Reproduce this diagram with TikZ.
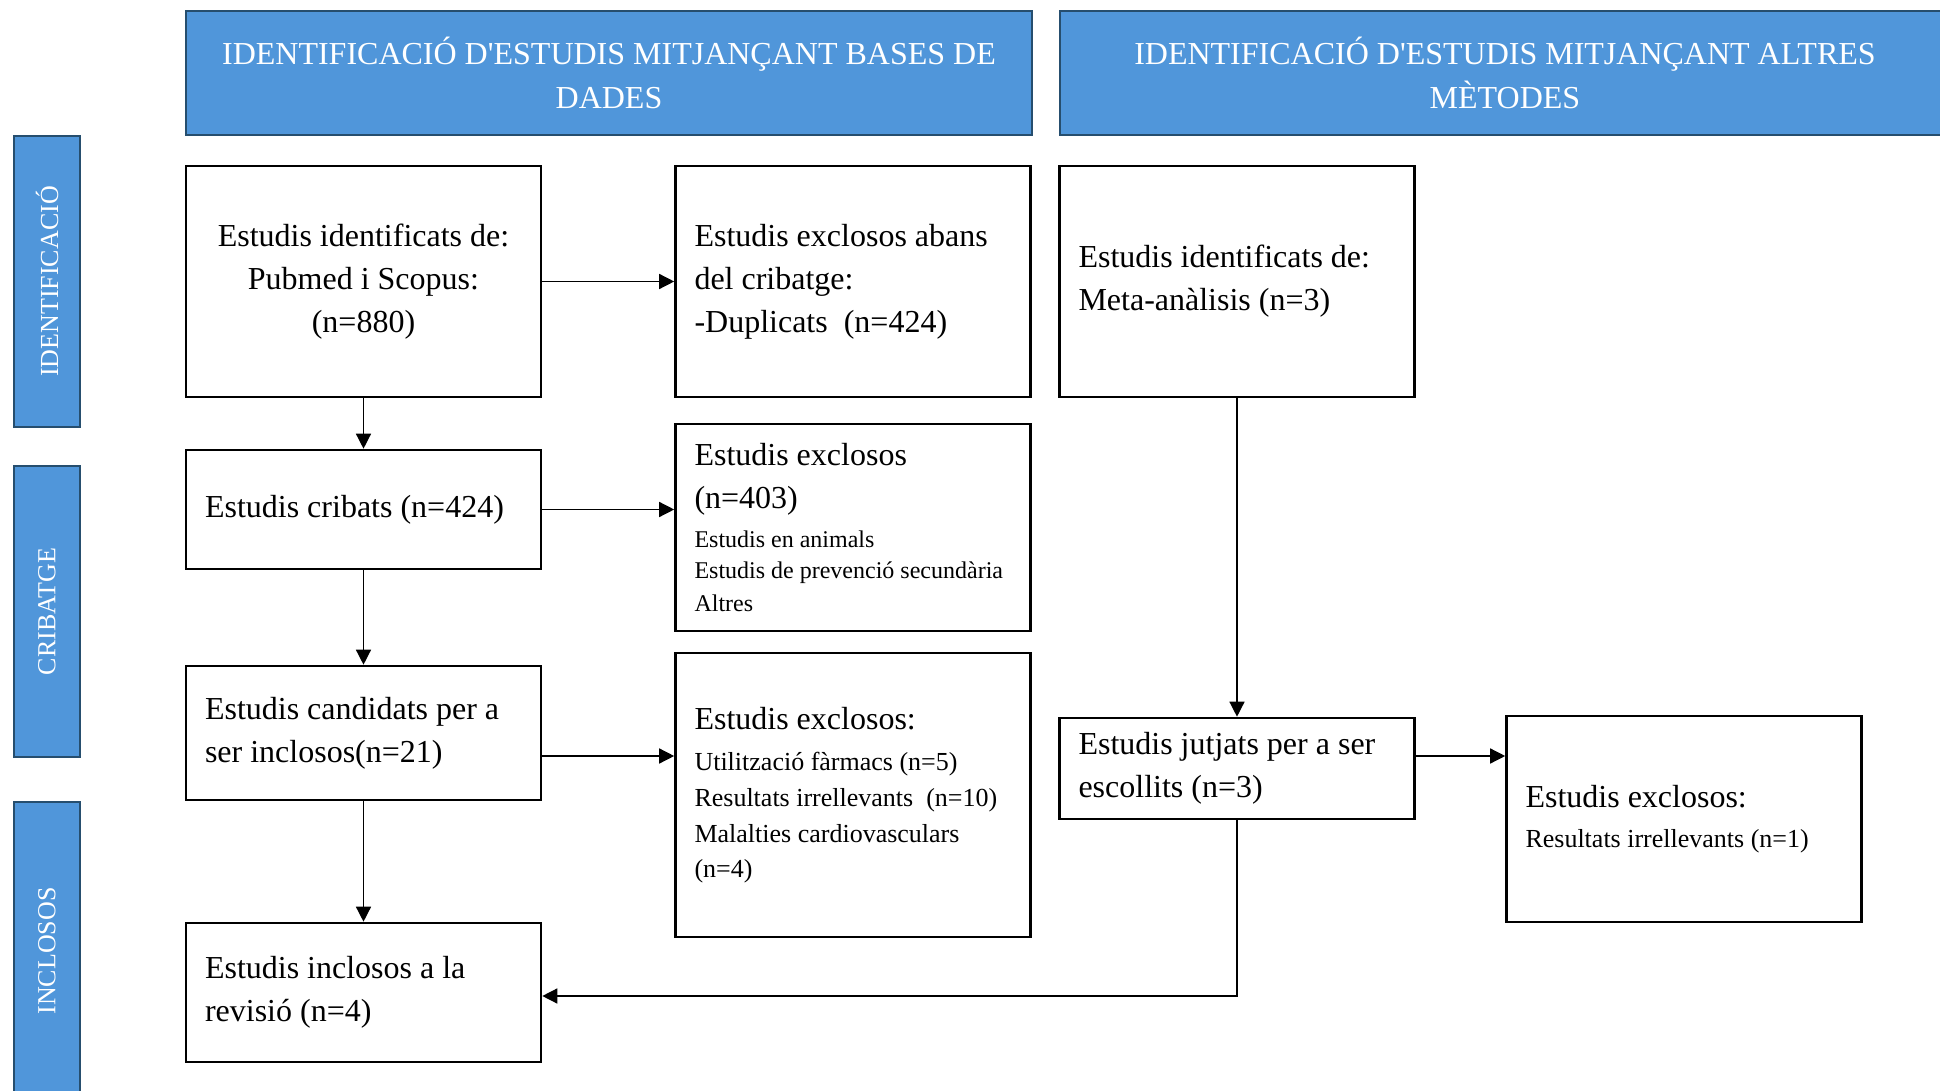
\documentclass[tikz,border=0pt]{standalone}
\usepackage{fontspec}
\setmainfont{Liberation Serif}
\newfontfamily\hdrfont{Liberation Serif}[Ligatures=TeXOff]
\usetikzlibrary{arrows.meta}
\definecolor{bandblue}{RGB}{80,150,218}
\definecolor{banddark}{RGB}{38,78,110}

\begin{document}
\begin{tikzpicture}[x=0.5pt, y=-0.5pt,
		every node/.style={font=\fontsize{16}{21.5}\selectfont},
		box/.style={draw, line width=1.3pt, text width=158.5pt, inner xsep=9.5pt, align=flush left},
		cbox/.style={box, align=flush center},
		band/.style={draw=banddark, fill=bandblue, line width=1.2pt, text=white, align=center, inner sep=0pt},
		side/.style={band, rotate=90, minimum height=33pt, font=\fontsize{13}{16}\selectfont},
		arr/.style={line width=0.7pt, -{Triangle[length=7.5pt,width=7.5pt]}} ]
	\clip (0,0) rectangle (1940,1091);
	% capcaleres
	\node[band, minimum width=423pt, minimum height=62pt, font=\hdrfont\fontsize{16}{21.7}\selectfont] (hdb) at (609,73)
		{IDENTIFICACIÓ D'ESTUDIS MITJANÇANT BASES DE\\DADES};
	\node[band, minimum width=445pt, minimum height=62pt, font=\hdrfont\fontsize{16}{21.7}\selectfont] (hda) at (1505,73)
		{IDENTIFICACIÓ D'ESTUDIS MITJANÇANT ALTRES\\MÈTODES};
	\node[side, minimum width=145.5pt] (sid) at (47,281.5) {IDENTIFICACIÓ};
	\node[side, minimum width=145.5pt] (scr) at (47,611.5) {CRIBATGE};
	\node[side, minimum width=149pt] (sin) at (47,951) {INCLOSOS};
	% caixes
	\node[cbox, minimum height=115.5pt] (ident) at (363.5,281.5) {Estudis identificats de:\\Pubmed i Scopus:\\(n=880)};
	\node[box, minimum height=115.5pt] (dupl) at (853,281.5) {Estudis exclosos abans\\del cribatge:\\-Duplicats\ \ (n=424)};
	\node[box, minimum height=115.5pt] (meta) at (1237,281.5) {Estudis identificats de:\\Meta-anàlisis (n=3)};
	\node[box, minimum height=59.5pt] (crib) at (363.5,509.5) {Estudis cribats (n=424)};
	\node[box, minimum height=103.5pt] (exc1) at (853,527.5) {Estudis exclosos\\(n=403)\\[-2pt]
		{\fontsize{12}{16}\selectfont Estudis en animals}\\[-6pt]
		{\fontsize{12}{16}\selectfont Estudis de prevenció secundària}\\[-5pt]
		{\fontsize{12}{16}\selectfont Altres}};
	\node[box, minimum height=67pt] (cand) at (363.5,733) {Estudis candidats per a\\ser inclosos(n=21)};
	\node[box, minimum height=142pt] (exc2) at (853,795) {Estudis exclosos:\\[-1pt]
		{\fontsize{13}{18}\selectfont Utilització fàrmacs (n=5)}\\[-3.5pt]
		{\fontsize{13}{18}\selectfont Resultats irrellevants\ \ (n=10)}\\[-3.5pt]
		{\fontsize{13}{18}\selectfont Malalties cardiovasculars}\\[-4pt]
		{\fontsize{13}{18}\selectfont (n=4)}};
	\node[box, minimum height=50.5pt] (jutj) at (1237,768.5) {Estudis jutjats per a ser\\escollits (n=3)};
	\node[box, minimum height=103pt] (exc3) at (1684,819) {Estudis exclosos:\\[-1.5pt]
		{\fontsize{13}{18}\selectfont Resultats irrellevants (n=1)}};
	\node[box, minimum height=69.5pt] (incl) at (363.5,992.5) {Estudis inclosos a la\\revisió (n=4)};
	% fletxes
	\draw[arr] (ident) -- (dupl);
	\draw[arr] (ident) -- (crib);
	\draw[arr] (crib.east) -- (crib.east -| exc1.west);
	\draw[arr] (crib) -- (cand);
	\draw[arr] ([yshift=-11.5pt]cand.east) -- ([yshift=-11.5pt]cand.east -| exc2.west);
	\draw[arr] (cand) -- (incl);
	\draw[arr] (meta) -- (jutj);
	\draw[arr] ([yshift=6.25pt]jutj.east) -- ([yshift=6.25pt]jutj.east -| exc3.west);
	\draw[arr] (jutj.south) |- ([yshift=-1.75pt]incl.east);
\end{tikzpicture}
\end{document}
